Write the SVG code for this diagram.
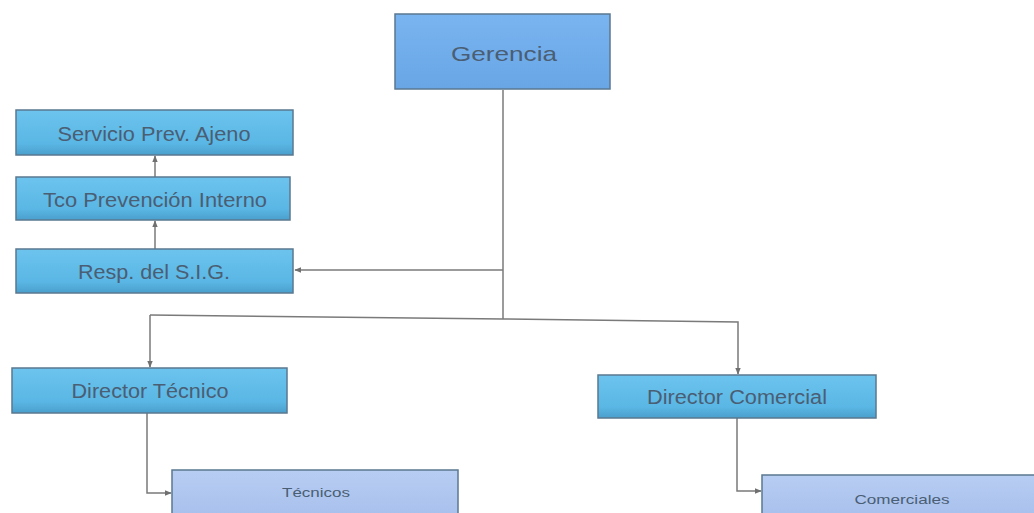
<svg xmlns="http://www.w3.org/2000/svg" width="1034" height="513" viewBox="0 0 1034 513">
<defs>
<linearGradient id="gCyan" x1="0" y1="0" x2="0" y2="1">
<stop offset="0" stop-color="#6cc4ee"/><stop offset="0.75" stop-color="#5ab6e4"/><stop offset="1" stop-color="#4a9fcc"/>
</linearGradient>
<linearGradient id="gGer" x1="0" y1="0" x2="0" y2="1">
<stop offset="0" stop-color="#7ab4f0"/><stop offset="1" stop-color="#68a6e6"/>
</linearGradient>
<linearGradient id="gLight" x1="0" y1="0" x2="0" y2="1">
<stop offset="0" stop-color="#b8cdf2"/><stop offset="1" stop-color="#a6bfec"/>
</linearGradient>
<marker id="arr" viewBox="0 0 10 10" refX="9" refY="5" markerWidth="7" markerHeight="7" orient="auto" markerUnits="userSpaceOnUse">
<path d="M0,1 L10,5 L0,9 z" fill="#707070"/>
</marker>
</defs>
<style>
.box{stroke:#5a7890;stroke-width:1.5}
.t{font-family:"Liberation Sans",Arial,sans-serif;fill:#4a5e74;text-anchor:middle;dominant-baseline:central}
.c{fill:none;stroke:#7a7a7a;stroke-width:1.5}
</style>
<rect width="1034" height="513" fill="#ffffff"/>
<g id="connectors">
<path class="c" d="M503,90 V319"/>
<path class="c" d="M503,270 H295" marker-end="url(#arr)"/>
<path class="c" d="M150,315 L503,319 L738,322 V374" marker-end="url(#arr)"/>
<path class="c" d="M150,315 V367" marker-end="url(#arr)"/>
<path class="c" d="M155,249 V221" marker-end="url(#arr)"/>
<path class="c" d="M155,177 V156" marker-end="url(#arr)"/>
<path class="c" d="M147,413 V493 H171" marker-end="url(#arr)"/>
<path class="c" d="M737,418 V491 H761" marker-end="url(#arr)"/>
</g>
<g id="gerencia">
<rect class="box" x="395" y="14" width="215" height="75" fill="url(#gGer)"/>
<text class="t" x="504" y="53" font-size="21" textLength="106" lengthAdjust="spacingAndGlyphs">Gerencia</text>
</g>
<g id="servicio">
<rect class="box" x="16" y="110" width="277" height="45" fill="url(#gCyan)"/>
<text class="t" x="154" y="134" font-size="20" textLength="193" lengthAdjust="spacingAndGlyphs">Servicio Prev. Ajeno</text>
</g>
<g id="tco">
<rect class="box" x="16" y="177" width="274" height="43" fill="url(#gCyan)"/>
<text class="t" x="155" y="200" font-size="20" textLength="224" lengthAdjust="spacingAndGlyphs">Tco Prevención Interno</text>
</g>
<g id="resp">
<rect class="box" x="16" y="249" width="277" height="44" fill="url(#gCyan)"/>
<text class="t" x="154" y="272" font-size="20" textLength="152" lengthAdjust="spacingAndGlyphs">Resp. del S.I.G.</text>
</g>
<g id="dir-tecnico">
<rect class="box" x="12" y="368" width="275" height="45" fill="url(#gCyan)"/>
<text class="t" x="150" y="391" font-size="20" textLength="157" lengthAdjust="spacingAndGlyphs">Director Técnico</text>
</g>
<g id="dir-comercial">
<rect class="box" x="598" y="375" width="278" height="43" fill="url(#gCyan)"/>
<text class="t" x="737" y="397" font-size="20" textLength="180" lengthAdjust="spacingAndGlyphs">Director Comercial</text>
</g>
<g id="tecnicos">
<rect class="box" x="172" y="470" width="286" height="50" fill="url(#gLight)"/>
<text class="t" x="316" y="493" font-size="12" textLength="68" lengthAdjust="spacingAndGlyphs">Técnicos</text>
</g>
<g id="comerciales">
<rect class="box" x="762" y="475" width="278" height="45" fill="url(#gLight)"/>
<text class="t" x="902" y="499" font-size="13" textLength="95" lengthAdjust="spacingAndGlyphs">Comerciales</text>
</g>
</svg>
